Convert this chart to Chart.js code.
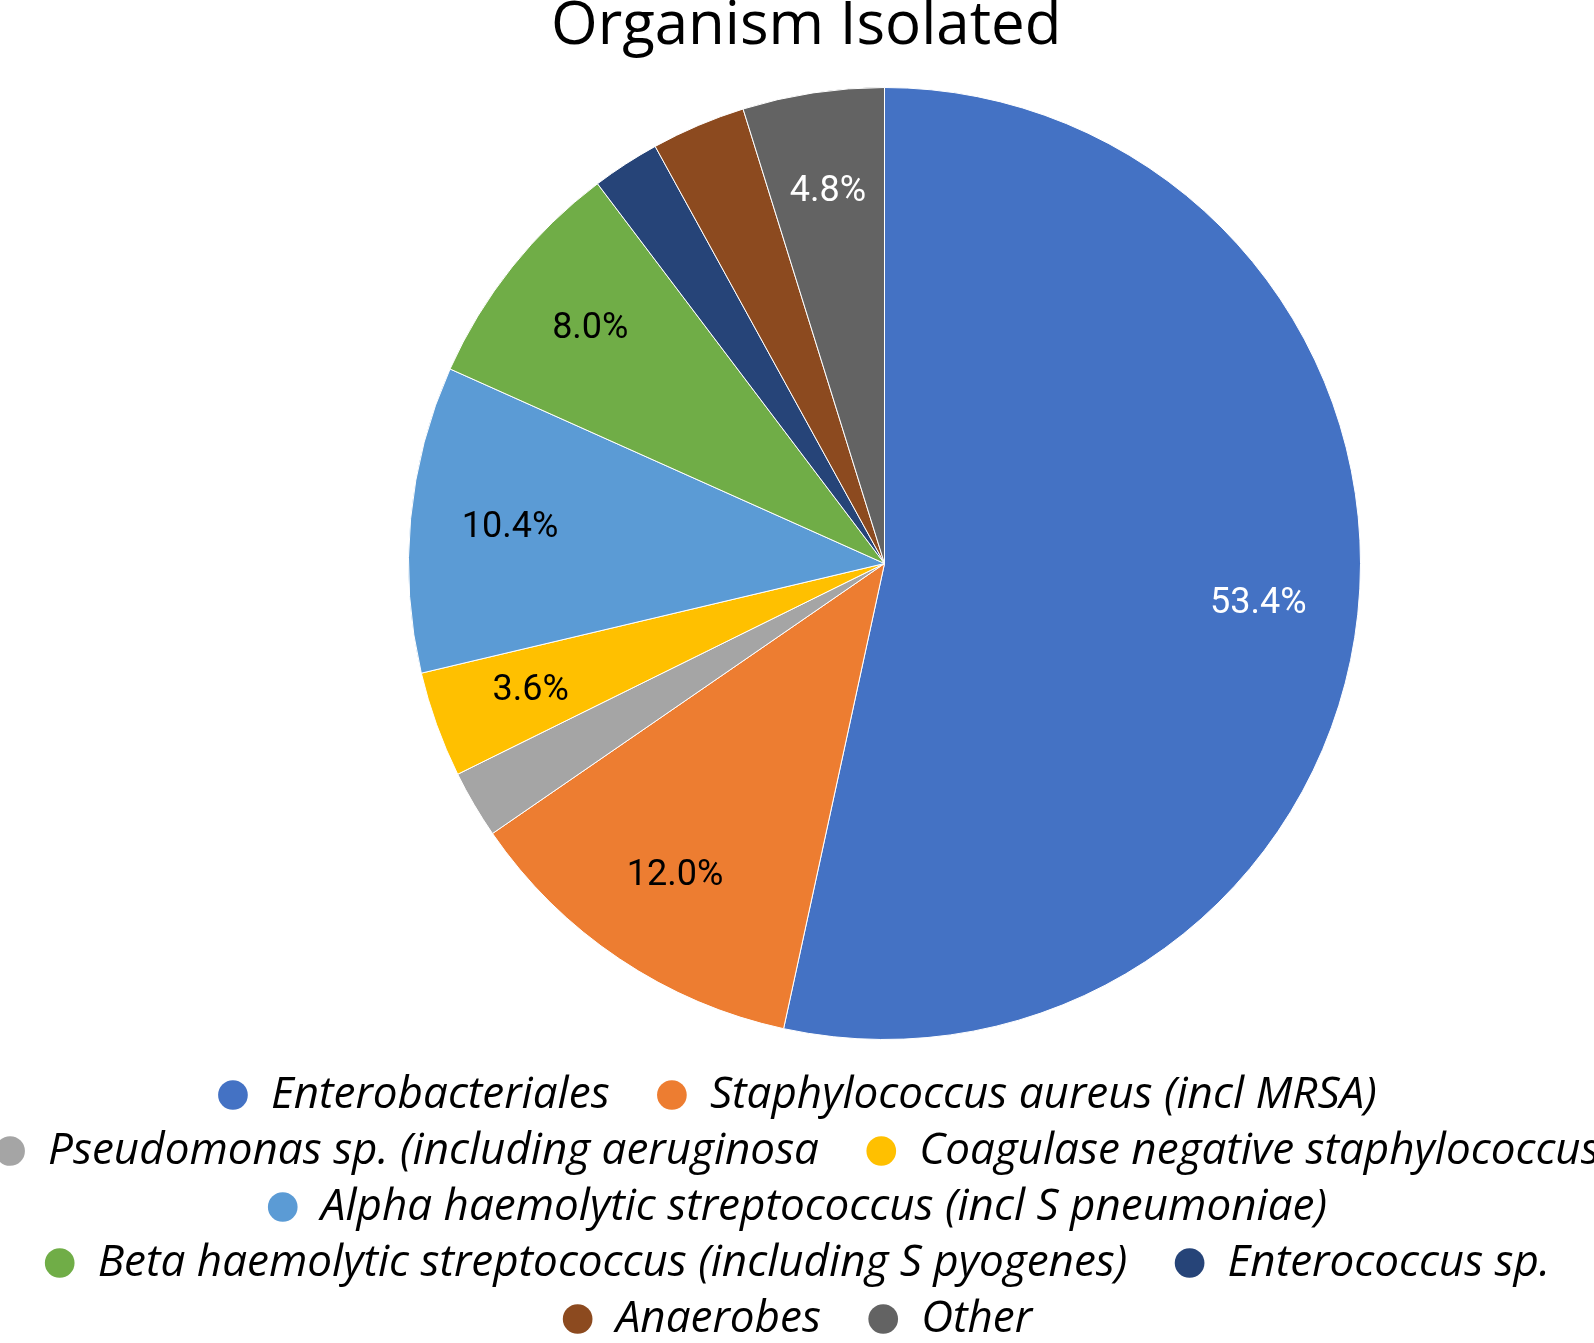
<!DOCTYPE html>
<html>
<head>
<meta charset="utf-8">
<title>Organism Isolated</title>
<script src="https://cdn.jsdelivr.net/npm/chart.js@4.4.1/dist/chart.umd.min.js"></script>
<style>
    html, body { margin: 0; padding: 0; background: #ffffff; overflow: hidden; }
    #wrap { width: 1594px; height: 1343px; position: relative; }
</style>
</head>
<body>
<div id="wrap"><canvas id="organismChart"></canvas></div>
<script>
// données (%)
const organisms = [
    'Enterobacteriales',
    'Staphylococcus aureus (incl MRSA)',
    'Pseudomonas sp. (including aeruginosa',
    'Coagulase negative staphylococcus',
    'Alpha haemolytic streptococcus (incl S pneumoniae)',
    'Beta haemolytic streptococcus (including S pyogenes)',
    'Enterococcus sp.',
    'Anaerobes',
    'Other'
];
const shares = [53.4, 12.0, 2.3, 3.6, 10.4, 8.0, 2.3, 3.2, 4.8];
const sliceColors = ['#4472C4', '#ED7D31', '#A5A5A5', '#FFC000', '#5B9BD5', '#70AD47', '#264478', '#8C4A1F', '#636363'];
const labelColors = ['#ffffff', '#000000', '#000000', '#000000', '#000000', '#000000', '#ffffff', '#ffffff', '#ffffff'];

// décale le camembert vers la droite comme sur l'original
const shiftPie = {
    id: 'shiftPie',
    afterLayout(chart) {
        chart.chartArea.left += 175;
        chart.chartArea.width -= 175;
    }
};

// étiquettes de pourcentage dans les parts (seulement les plus grandes)
const sliceLabels = {
    id: 'sliceLabels',
    afterDatasetsDraw(chart) {
        const ctx = chart.ctx;
        const meta = chart.getDatasetMeta(0);
        ctx.save();
        ctx.font = '36px Roboto';
        ctx.textAlign = 'center';
        ctx.textBaseline = 'middle';
        meta.data.forEach((arc, i) => {
            if (shares[i] < 3.5) return;
            const p = arc.getProps(['x', 'y', 'startAngle', 'endAngle', 'outerRadius'], true);
            const mid = (p.startAngle + p.endAngle) / 2;
            const r = p.outerRadius * 0.79;
            ctx.fillStyle = labelColors[i];
            ctx.fillText(shares[i].toFixed(1) + '%', p.x + Math.cos(mid) * r, p.y + Math.sin(mid) * r);
        });
        ctx.restore();
    }
};

const ctx = document.getElementById('organismChart').getContext('2d');
new Chart(ctx, {
    type: 'pie',
    data: {
        labels: organisms,
        datasets: [{
            data: shares,
            backgroundColor: sliceColors,
            borderColor: '#ffffff',
            borderWidth: 1,
            radius: 476
        }]
    },
    options: {
        responsive: true,
        maintainAspectRatio: false,
        animation: false,
        layout: { padding: { left: -43, right: -77, top: 0, bottom: -8 } },
        plugins: {
            title: {
                display: true,
                text: 'Organism Isolated ',
                color: '#000000',
                font: { family: 'Open Sans', size: 60, weight: 'normal', lineHeight: 0.9 },
                padding: { top: 0, bottom: 12 }
            },
            legend: {
                position: 'bottom',
                labels: {
                    color: '#000000',
                    font: { family: 'Open Sans', size: 44, style: 'italic' },
                    usePointStyle: true,
                    pointStyle: 'circle',
                    boxWidth: 32,
                    boxHeight: 21,
                    padding: 12,
                    generateLabels(chart) {
                        const items = Chart.overrides.pie.plugins.legend.labels.generateLabels(chart);
                        items.forEach(it => { it.text = it.text + '   '; it.lineWidth = 0; });
                        return items;
                    }
                }
            },
            tooltip: { enabled: false }
        }
    },
    plugins: [shiftPie, sliceLabels]
});
</script>
</body>
</html>
